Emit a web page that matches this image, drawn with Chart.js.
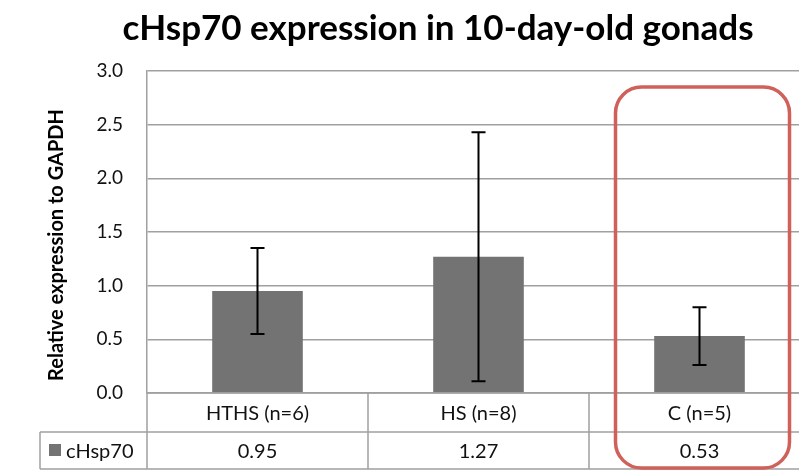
<!DOCTYPE html>
<html>
<head>
<meta charset="utf-8">
<script src="https://cdn.jsdelivr.net/npm/chart.js@4.4.0/dist/chart.umd.min.js"></script>
<style>
  html, body { margin: 0; padding: 0; background: #fff; overflow: hidden; }
  #wrap { width: 811px; height: 471px; position: relative; }
</style>
</head>
<body>
<div id="wrap"><canvas id="chart"></canvas></div>
<script>
let categories = ['HTHS (n=6)', 'HS (n=8)', 'C (n=5)'];
let seriesName = 'cHsp70';
let values = [0.95, 1.27, 0.53];
let errors = [0.40, 1.16, 0.27];
let valueLabels = ['0.95', '1.27', '0.53'];
let yTicks = [0, 0.5, 1.0, 1.5, 2.0, 2.5, 3.0];

let FONT = 'Lato, "Open Sans", sans-serif';
let GRID = '#a0a0a0';
let BAR = '#737373';

// title, axis label, error bars, data table, highlight box
let extras = {
    id: 'extras',
    afterDatasetsDraw(chart) {
        let ctx = chart.ctx;
        let y = chart.scales.y;
        let meta = chart.getDatasetMeta(0);
        ctx.save();
        ctx.strokeStyle = '#000';
        ctx.lineWidth = 2;
        meta.data.forEach(function (bar, i) {
            let top = y.getPixelForValue(values[i] + errors[i]);
            let bot = y.getPixelForValue(values[i] - errors[i]);
            ctx.beginPath();
            ctx.moveTo(bar.x, top); ctx.lineTo(bar.x, bot);
            ctx.moveTo(bar.x - 7, top); ctx.lineTo(bar.x + 7, top);
            ctx.moveTo(bar.x - 7, bot); ctx.lineTo(bar.x + 7, bot);
            ctx.stroke();
        });
        ctx.restore();
    },
    afterDraw(chart) {
        let ctx = chart.ctx;
        let area = chart.chartArea;
        let x = chart.scales.x;
        let y = chart.scales.y;
        ctx.save();

        // title
        ctx.fillStyle = '#000';
        ctx.font = 'bold 35px ' + FONT;
        ctx.textAlign = 'center';
        ctx.textBaseline = 'alphabetic';
        ctx.fillText('cHsp70 expression in 10-day-old gonads', 438, 40);

        // y axis title
        ctx.save();
        ctx.translate(57, (area.top + area.bottom) / 2 + 13);
        ctx.rotate(-Math.PI / 2);
        ctx.font = 'bold 20px ' + FONT;
        ctx.textBaseline = 'middle';
        ctx.fillText('Relative expression to GAPDH', 0, 0);
        ctx.restore();

        // data table
        let row1 = area.bottom;
        let row2 = row1 + 39;
        let row3 = row2 + 37;
        let legendLeft = 40;
        let half = (x.getPixelForValue(1) - x.getPixelForValue(0)) / 2;
        ctx.strokeStyle = GRID;
        ctx.lineWidth = 1.5;
        ctx.beginPath();
        ctx.moveTo(area.left, row1); ctx.lineTo(area.right, row1);
        ctx.moveTo(legendLeft, row2); ctx.lineTo(area.right, row2);
        ctx.moveTo(legendLeft, row3); ctx.lineTo(area.right, row3);
        ctx.moveTo(legendLeft, row2); ctx.lineTo(legendLeft, row3);
        ctx.moveTo(area.left, row1); ctx.lineTo(area.left, row3);
        for (let i = 0; i < categories.length; i++) {
            let edge = x.getPixelForValue(i) + half;
            ctx.moveTo(edge, row1); ctx.lineTo(edge, row3);
        }
        ctx.stroke();

        ctx.fillStyle = '#111';
        ctx.font = '20px ' + FONT;
        ctx.textAlign = 'center';
        ctx.textBaseline = 'middle';
        categories.forEach(function (c, i) {
            let cx = x.getPixelForValue(i);
            ctx.fillText(c, cx, (row1 + row2) / 2 + 1);
            ctx.fillText(valueLabels[i], cx, (row2 + row3) / 2 + 1);
        });
        ctx.fillStyle = BAR;
        ctx.fillRect(49, row2 + 12, 12, 12);
        ctx.fillStyle = '#111';
        ctx.textAlign = 'left';
        ctx.fillText(seriesName, 66, (row2 + row3) / 2 + 1);

        // highlight box round the control group
        let cx = x.getPixelForValue(2) + 3;
        ctx.strokeStyle = '#cf605a';
        ctx.lineWidth = 3.5;
        ctx.beginPath();
        ctx.roundRect(cx - 87, y.getPixelForValue(2.85), 174, row3 - 1 - y.getPixelForValue(2.85), 26);
        ctx.stroke();
        ctx.restore();
    }
};

let ctx = document.getElementById('chart').getContext('2d');
let chart = new Chart(ctx, {
    type: 'bar',
    data: {
        labels: categories,
        datasets: [{
            label: seriesName,
            data: values,
            backgroundColor: BAR,
            borderWidth: 0,
            barPercentage: 0.41,
            categoryPercentage: 1.0
        }]
    },
    options: {
        responsive: true,
        maintainAspectRatio: false,
        animation: false,
        events: [],
        layout: {
            padding: { top: 71, bottom: 78, left: 0, right: 1 }
        },
        scales: {
            x: {
                display: false,
                offset: true
            },
            y: {
                min: 0,
                max: 3,
                afterFit: function (scale) { scale.width = 147; },
                afterBuildTicks: function (scale) {
                    scale.ticks = yTicks.map(function (v) { return { value: v }; });
                },
                ticks: {
                    padding: 24,
                    color: '#111',
                    font: { family: FONT, size: 19 },
                    callback: function (v) { return Number(v).toFixed(1); }
                },
                grid: { color: GRID, lineWidth: 1.5, drawTicks: false },
                border: { color: GRID, width: 1.5 }
            }
        },
        plugins: {
            legend: { display: false },
            tooltip: { enabled: false },
            title: { display: false }
        }
    },
    plugins: [extras]
});
</script>
</body>
</html>
